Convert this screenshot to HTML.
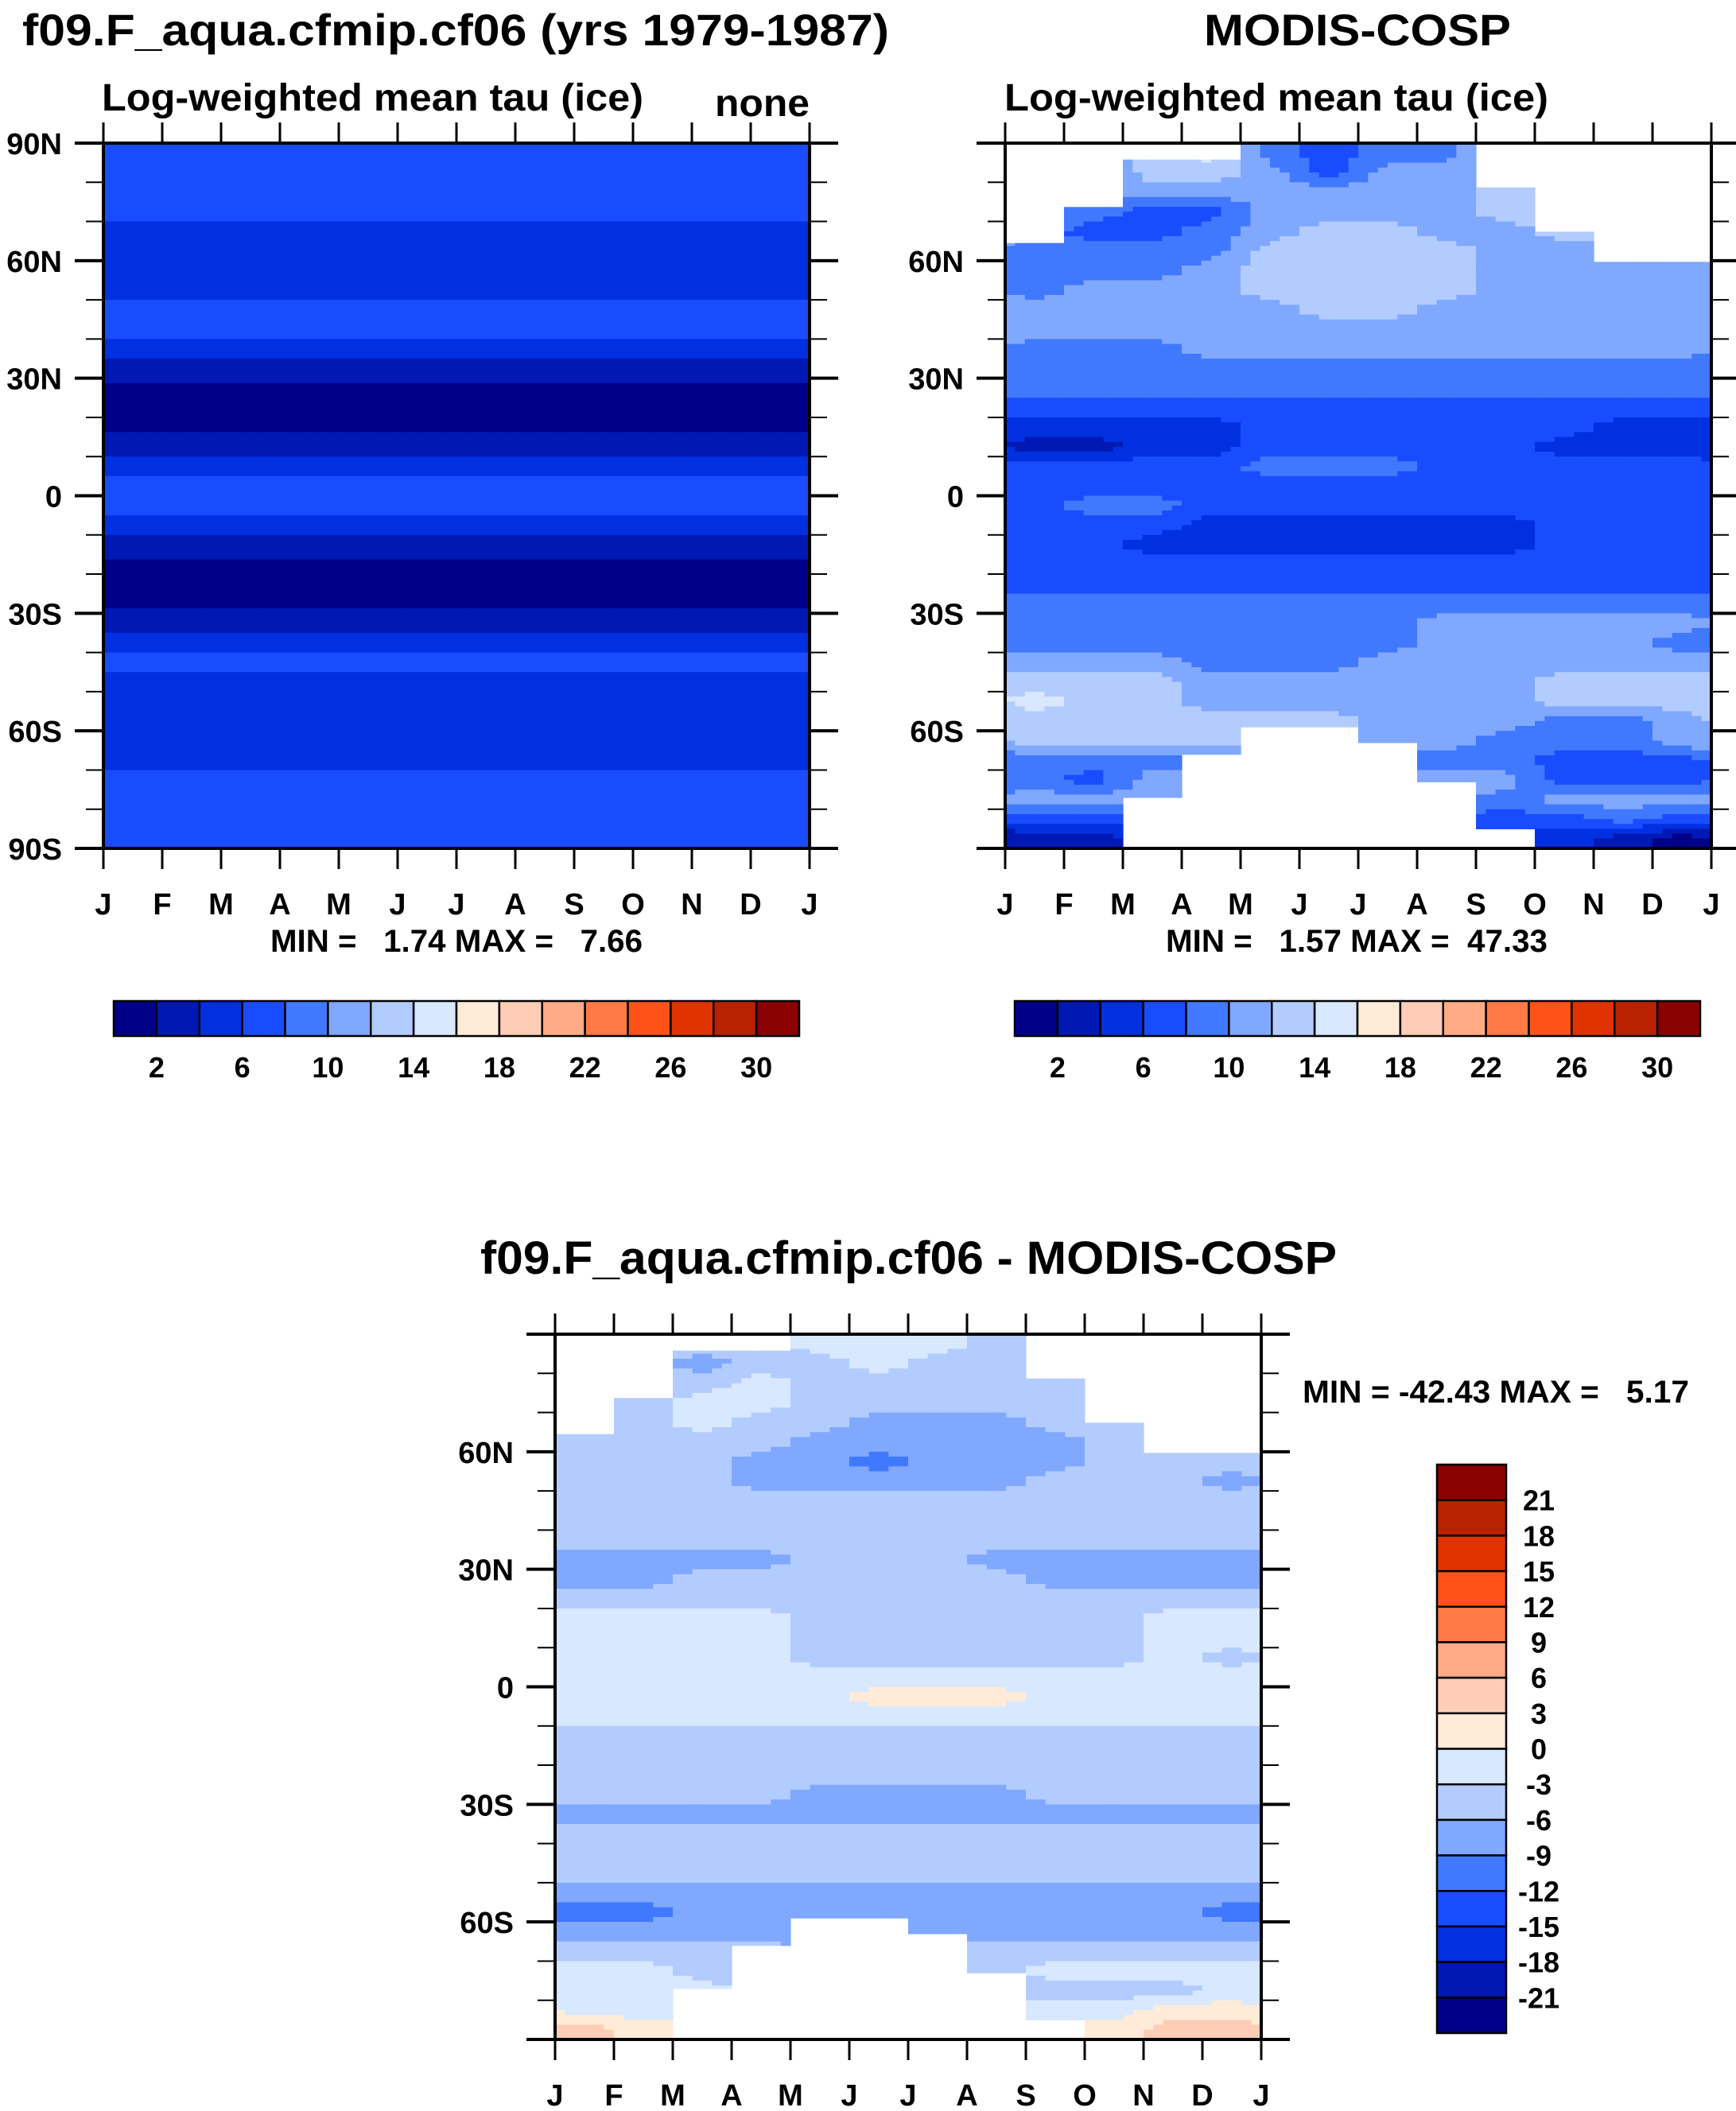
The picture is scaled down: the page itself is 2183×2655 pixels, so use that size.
<!DOCTYPE html>
<html><head><meta charset="utf-8"><style>
html,body{margin:0;padding:0;background:#fff;}
svg{display:block;font-family:"Liberation Sans",sans-serif;font-weight:bold;}
.pre{white-space:pre;}
</style></head><body>
<svg id="root" width="2183" height="2655" viewBox="0 0 2183 2655" xmlns="http://www.w3.org/2000/svg">
<text x="28" y="57" font-size="56" textLength="1090" lengthAdjust="spacingAndGlyphs">f09.F_aqua.cfmip.cf06 (yrs 1979-1987)</text>
<text x="128" y="139" font-size="48" textLength="681" lengthAdjust="spacingAndGlyphs">Log-weighted mean tau (ice)</text>
<text x="899" y="146" font-size="48" textLength="119" lengthAdjust="spacingAndGlyphs">none</text>
<text x="1514" y="57" font-size="56" textLength="386" lengthAdjust="spacingAndGlyphs">MODIS-COSP</text>
<text x="1263" y="139" font-size="48" textLength="684" lengthAdjust="spacingAndGlyphs">Log-weighted mean tau (ice)</text>
<text x="604" y="1602" font-size="58" textLength="1077" lengthAdjust="spacingAndGlyphs">f09.F_aqua.cfmip.cf06 - MODIS-COSP</text>
<text class="pre" xml:space="preserve" x="340" y="1197" font-size="40" textLength="468" lengthAdjust="spacingAndGlyphs">MIN =   1.74 MAX =   7.66</text>
<text class="pre" xml:space="preserve" x="1466" y="1197" font-size="40" textLength="480" lengthAdjust="spacingAndGlyphs">MIN =   1.57 MAX =  47.33</text>
<text class="pre" xml:space="preserve" x="1638" y="1764" font-size="40" textLength="486" lengthAdjust="spacingAndGlyphs">MIN = -42.43 MAX =   5.17</text>
<g id="layer"></g>
</svg>
<script>
const months = ["J","F","M","A","M","J","J","A","S","O","N","D","J"];
const latRows = [87.5,82.5,77.5,72.5,67.5,62.5,57.5,52.5,47.5,42.5,37.5,32.5,27.5,22.5,17.5,12.5,7.5,2.5,-2.5,-7.5,-12.5,-17.5,-22.5,-27.5,-32.5,-37.5,-42.5,-47.5,-52.5,-57.5,-62.5,-67.5,-72.5,-77.5,-82.5,-87.5];
const colors = ["#000088","#0019b4","#0030e0","#1a4cff","#4078ff","#80a8ff","#b3ccff","#d7e8ff","#ffebd7","#ffcdb5","#ffab85","#ff7a45","#ff5219","#e03300","#b82200","#8b0000"];
const levelsAbs = [2,4,6,8,10,12,14,16,18,20,22,24,26,28,30];
const levelsDiff = [-21,-18,-15,-12,-9,-6,-3,0,3,6,9,12,15,18,21];
const absTickLabels = ["2","6","10","14","18","22","26","30"];
const diffTickLabels = ["-21","-18","-15","-12","-9","-6","-3","0","3","6","9","12","15","18","21"];
const latTicks1 = ["90N","60N","30N","0","30S","60S","90S"];
const latTickVals1 = [90,60,30,0,-30,-60,-90];
const latTicks2 = ["60N","30N","0","30S","60S"];
const latTickVals2 = [60,30,0,-30,-60];
const modelProfile = [7,7,7,7,5,5,5,5,7,7,5,3,1.8,1.8,1.8,3,5,7,7,5,3,1.8,1.8,1.8,3,5,7,5,5,5,5,5,7,7,7,7];
const obsNorth = [64.5,73.7,85.8,85.8,90,90,90,90,78.7,67.4,59.7,59.7];
const obsSouth = [-90,-90,-77,-66,-59,-59,-63,-73,-85,-90,-90,-90];
const obs = [
[9,9,13,15,9,7,9,9,13,13,13,13],
[9,9,13,13,11,7,11,11,13,13,13,13],
[11,11,11,11,11,11,11,11,13,13,13,13],
[11,9,7,7,11,11,11,11,13,13,13,13],
[9,7,7,9,11,13,13,11,11,13,13,13],
[9,9,9,9,13,13,13,13,11,11,11,11],
[9,9,9,11,13,13,13,13,11,11,11,11],
[9,11,11,11,13,13,13,13,11,11,11,11],
[11,11,11,11,11,13,13,11,11,11,11,11],
[11,11,11,11,11,11,11,11,11,11,11,11],
[9,9,9,11,11,11,11,11,11,11,11,11],
[9,9,9,9,9,9,9,9,9,9,9,9],
[9,9,9,9,9,9,9,9,9,9,9,9],
[7,7,7,7,7,7,7,7,7,7,7,7],
[5,5,5,5,7,7,7,7,7,7,5,5],
[3,3,5,5,7,7,7,7,7,5,5,5],
[7,7,7,7,9,9,9,7,7,7,7,7],
[7,7,7,7,7,7,7,7,7,7,7,7],
[7,9,9,7,7,7,7,7,7,7,7,7],
[7,7,7,5,5,5,5,5,5,7,7,7],
[7,7,5,5,5,5,5,5,5,7,7,7],
[7,7,7,7,7,7,7,7,7,7,7,7],
[7,7,7,7,7,7,7,7,7,7,7,7],
[9,9,9,9,9,9,9,9,9,9,9,9],
[9,9,9,9,9,9,9,11,11,11,11,11],
[9,9,9,9,9,9,9,11,11,11,11,9],
[11,11,11,9,9,9,11,11,11,11,11,11],
[13,13,13,11,11,11,11,11,11,13,13,13],
[15,13,13,11,11,11,11,11,11,13,13,13],
[13,13,13,13,13,13,11,11,11,9,9,11],
[13,13,13,13,13,13,11,11,9,9,9,11],
[9,9,9,9,9,9,9,9,9,7,7,7],
[9,7,11,11,11,11,11,11,11,7,7,7],
[11,11,11,11,11,11,11,11,9,11,11,11],
[7,7,7,7,7,7,7,7,7,7,9,7],
[3,3,5,5,5,5,5,5,5,5,3,1]];
const diff = [
[-4.5,-4.5,-4.5,-4.5,-1.5,-1.5,-1.5,-4.5,-4.5,-4.5,-4.5,-4.5],
[-4.5,-4.5,-7.5,-4.5,-4.5,-1.5,-4.5,-4.5,-4.5,-4.5,-4.5,-4.5],
[-4.5,-4.5,-4.5,-1.5,-4.5,-4.5,-4.5,-4.5,-4.5,-4.5,-4.5,-4.5],
[-4.5,-4.5,-1.5,-1.5,-4.5,-4.5,-4.5,-4.5,-4.5,-4.5,-4.5,-4.5],
[-4.5,-4.5,-1.5,-4.5,-4.5,-7.5,-7.5,-7.5,-4.5,-4.5,-4.5,-4.5],
[-4.5,-4.5,-4.5,-4.5,-7.5,-7.5,-7.5,-7.5,-7.5,-4.5,-4.5,-4.5],
[-4.5,-4.5,-4.5,-7.5,-7.5,-10.5,-7.5,-7.5,-7.5,-4.5,-4.5,-4.5],
[-4.5,-4.5,-4.5,-7.5,-7.5,-7.5,-7.5,-7.5,-4.5,-4.5,-4.5,-7.5],
[-4.5,-4.5,-4.5,-4.5,-4.5,-4.5,-4.5,-4.5,-4.5,-4.5,-4.5,-4.5],
[-4.5,-4.5,-4.5,-4.5,-4.5,-4.5,-4.5,-4.5,-4.5,-4.5,-4.5,-4.5],
[-4.5,-4.5,-4.5,-4.5,-4.5,-4.5,-4.5,-4.5,-4.5,-4.5,-4.5,-4.5],
[-7.5,-7.5,-7.5,-7.5,-4.5,-4.5,-4.5,-7.5,-7.5,-7.5,-7.5,-7.5],
[-7.5,-7.5,-4.5,-4.5,-4.5,-4.5,-4.5,-4.5,-7.5,-7.5,-7.5,-7.5],
[-4.5,-4.5,-4.5,-4.5,-4.5,-4.5,-4.5,-4.5,-4.5,-4.5,-4.5,-4.5],
[-1.5,-1.5,-1.5,-1.5,-4.5,-4.5,-4.5,-4.5,-4.5,-4.5,-1.5,-1.5],
[-1.5,-1.5,-1.5,-1.5,-4.5,-4.5,-4.5,-4.5,-4.5,-4.5,-1.5,-1.5],
[-1.5,-1.5,-1.5,-1.5,-4.5,-4.5,-4.5,-4.5,-4.5,-4.5,-1.5,-4.5],
[-1.5,-1.5,-1.5,-1.5,-1.5,-1.5,-1.5,-1.5,-1.5,-1.5,-1.5,-1.5],
[-1.5,-1.5,-1.5,-1.5,-1.5,1.5,1.5,1.5,-1.5,-1.5,-1.5,-1.5],
[-1.5,-1.5,-1.5,-1.5,-1.5,-1.5,-1.5,-1.5,-1.5,-1.5,-1.5,-1.5],
[-4.5,-4.5,-4.5,-4.5,-4.5,-4.5,-4.5,-4.5,-4.5,-4.5,-4.5,-4.5],
[-4.5,-4.5,-4.5,-4.5,-4.5,-4.5,-4.5,-4.5,-4.5,-4.5,-4.5,-4.5],
[-4.5,-4.5,-4.5,-4.5,-4.5,-4.5,-4.5,-4.5,-4.5,-4.5,-4.5,-4.5],
[-4.5,-4.5,-4.5,-4.5,-7.5,-7.5,-7.5,-7.5,-4.5,-4.5,-4.5,-4.5],
[-7.5,-7.5,-7.5,-7.5,-7.5,-7.5,-7.5,-7.5,-7.5,-7.5,-7.5,-7.5],
[-4.5,-4.5,-4.5,-4.5,-4.5,-4.5,-4.5,-4.5,-4.5,-4.5,-4.5,-4.5],
[-4.5,-4.5,-4.5,-4.5,-4.5,-4.5,-4.5,-4.5,-4.5,-4.5,-4.5,-4.5],
[-4.5,-4.5,-4.5,-4.5,-4.5,-4.5,-4.5,-4.5,-4.5,-4.5,-4.5,-4.5],
[-7.5,-7.5,-7.5,-7.5,-7.5,-7.5,-7.5,-7.5,-7.5,-7.5,-7.5,-7.5],
[-10.5,-10.5,-7.5,-7.5,-7.5,-7.5,-7.5,-7.5,-7.5,-7.5,-7.5,-10.5],
[-7.5,-7.5,-7.5,-7.5,-10.5,-10.5,-7.5,-7.5,-7.5,-7.5,-7.5,-7.5],
[-4.5,-4.5,-4.5,-4.5,-4.5,-4.5,-4.5,-4.5,-4.5,-4.5,-4.5,-4.5],
[-1.5,-1.5,-4.5,-4.5,-4.5,-4.5,-4.5,-4.5,-1.5,-1.5,-1.5,-1.5],
[-1.5,-1.5,-1.5,-4.5,-4.5,-4.5,-4.5,-4.5,-4.5,-4.5,-4.5,-1.5],
[-1.5,-1.5,-1.5,-1.5,-1.5,-1.5,-1.5,-1.5,-1.5,-1.5,1.5,1.5],
[4.5,1.5,1.5,1.5,1.5,1.5,1.5,1.5,1.5,1.5,4.5,4.5]];

const NS="http://www.w3.org/2000/svg";
const layer=document.getElementById('layer');
function mk(tag,attrs,parent){const e=document.createElementNS(NS,tag);for(const k in attrs)e.setAttribute(k,attrs[k]);(parent||layer).appendChild(e);return e;}
function colorIndex(v,levels){let i=0;while(i<levels.length&&v>=levels[i])i++;return i;}

function interp(valueAt,lat,mf){
  let r=(latRows[0]-lat)/5; r=Math.max(0,Math.min(latRows.length-1,r));
  const r0=Math.floor(r), r1=Math.min(latRows.length-1,r0+1), fr=r-r0;
  let c=mf-0.5; let c0=Math.floor(c); const fc=c-c0;
  const ca=((c0%12)+12)%12, cb=((c0+1)%12+12)%12;
  const a=valueAt(r0,ca)*(1-fc)+valueAt(r0,cb)*fc;
  const b=valueAt(r1,ca)*(1-fc)+valueAt(r1,cb)*fc;
  return a*(1-fr)+b*fr;
}

function panel(name,x0,y0,w,h,valueAt,levels,north,south,latLabels,latVals){
  const g=mk('g',{});
  
  
  const xs=m=>x0+m*w/12;
  const ys=lat=>y0+(90-lat)*h/180;
  const SM=6, SL=1.25;
  for(let lat=90;lat>-90;lat-=SL){
    for(let mi=0;mi<12*SM;mi++){
      const m=Math.floor(mi/SM);
      let top=lat, bot=lat-SL;
      if(north){top=Math.min(top,north[m]);}
      if(south){bot=Math.max(bot,south[m]);}
      if(top<=bot)continue;
      const v=interp(valueAt,lat-SL/2,(mi+0.5)/SM);
      const rc=mk('rect',{x:xs(mi/SM),y:ys(top),width:w/12/SM+0.6,height:ys(bot)-ys(top)+0.6,fill:colors[colorIndex(v,levels)]},g);
      
      
    }
  }
  const fr=mk('rect',{x:x0,y:y0,width:w,height:h,fill:'none',stroke:'#000','stroke-width':4},g);
  
  
  for(let m=0;m<=12;m++){
    mk('line',{x1:xs(m),x2:xs(m),y1:y0,y2:y0-26,stroke:'#000','stroke-width':3},g);
    mk('line',{x1:xs(m),x2:xs(m),y1:y0+h,y2:y0+h+26,stroke:'#000','stroke-width':3},g);
    const t=mk('text',{x:xs(m),y:y0+h+83,'font-size':38,'text-anchor':'middle'},g);
    
    
    t.textContent=months[m];
  }
  for(let lat=-90;lat<=90;lat+=10){
    const major=lat%30===0;const L=major?36:22;
    mk('line',{x1:x0-L,x2:x0,y1:ys(lat),y2:ys(lat),stroke:'#000','stroke-width':major?4:2},g);
    mk('line',{x1:x0+w,x2:x0+w+L,y1:ys(lat),y2:ys(lat),stroke:'#000','stroke-width':major?4:2},g);
  }
  latLabels.forEach((s,i)=>{
    const t=mk('text',{x:x0-52,y:ys(latVals[i])+14,'font-size':38,'text-anchor':'end'},g);
    
    
    t.textContent=s;
  });
}

function hbar(name,x0,y0,w,h){
  const g=mk('g',{});
  
  
  const bw=w/colors.length;
  colors.forEach((c,i)=>{
    const r=mk('rect',{x:x0+i*bw,y:y0,width:bw,height:h,fill:c,stroke:'#000','stroke-width':2.5},g);
    
    
  });
  absTickLabels.forEach((s,i)=>{
    const idx=levelsAbs.indexOf(+s);
    const t=mk('text',{x:x0+(idx+1)*bw,y:y0+h+52,'font-size':36,'text-anchor':'middle'},g);
    
    
    t.textContent=s;
  });
}
function vbar(name,x0,y0,w,h){
  const g=mk('g',{});
  
  
  const bh=h/colors.length;
  for(let i=0;i<colors.length;i++){
    const r=mk('rect',{x:x0,y:y0+i*bh,width:w,height:bh,fill:colors[colors.length-1-i],stroke:'#000','stroke-width':2.5},g);
    
    
  }
  diffTickLabels.forEach((s,i)=>{
    const k=levelsDiff.indexOf(+s);
    const yy=y0+(colors.length-1-k)*bh;
    const t=mk('text',{x:x0+128,y:yy+13,'font-size':36,'text-anchor':'middle'},g);
    
    
    t.textContent=s;
  });
}

panel('model-panel',130,180,888,887,(r,m)=>modelProfile[r],levelsAbs,null,null,latTicks1,latTickVals1);
panel('obs-panel',1264,180,888,887,(r,m)=>obs[r][m],levelsAbs,obsNorth,obsSouth,latTicks2,latTickVals2);
panel('diff-panel',698,1678,888,887,(r,m)=>diff[r][m],levelsDiff,obsNorth,obsSouth,latTicks2,latTickVals2);
hbar('model-colorbar',143,1259,862,44);
hbar('obs-colorbar',1276,1259,862,44);
vbar('diff-colorbar',1807,1842,87,715);
</script>
</body></html>
